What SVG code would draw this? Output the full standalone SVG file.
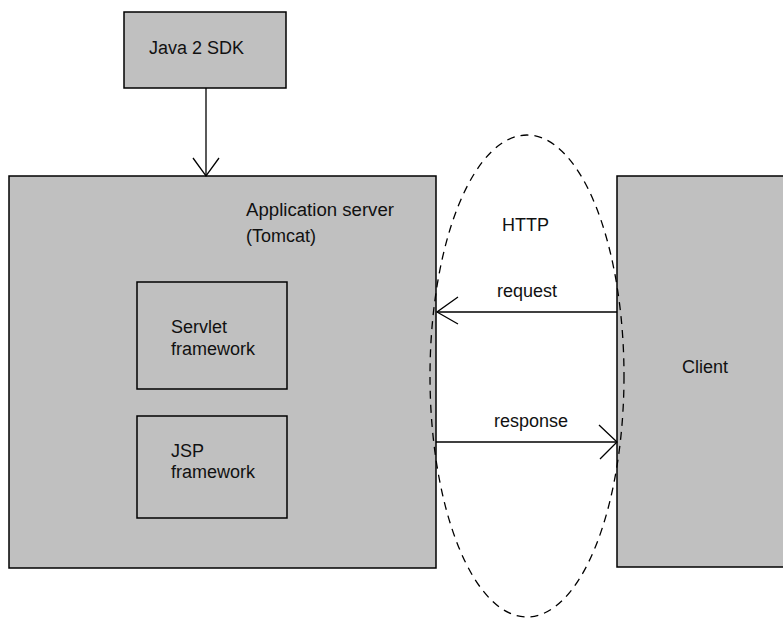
<svg xmlns="http://www.w3.org/2000/svg" width="783" height="618" viewBox="0 0 783 618">
<defs>
<style>
.box{fill:#c0c0c0;stroke:#000;stroke-width:1.5}
.t{font-family:"Liberation Sans",Arial,sans-serif;font-size:18px;fill:#111}
.ln{stroke:#000;stroke-width:1.3;fill:none}
.dash{stroke:#000;stroke-width:1.3;fill:none;stroke-dasharray:8 6}
</style>
</defs>
<rect width="783" height="618" fill="#fff"/>
<g id="java-sdk">
<rect class="box" x="124" y="12" width="162" height="76"/>
<text class="t" x="149" y="54">Java 2 SDK</text>
</g>
<g id="app-server">
<rect class="box" x="9" y="176" width="427" height="392"/>
<text class="t" x="246" y="216" textLength="148" lengthAdjust="spacingAndGlyphs">Application server</text>
<text class="t" x="246" y="242">(Tomcat)</text>
</g>
<g id="servlet">
<rect class="box" x="137" y="282" width="150" height="107"/>
<text class="t" x="171" y="333">Servlet</text>
<text class="t" x="171" y="355">framework</text>
</g>
<g id="jsp">
<rect class="box" x="137" y="416" width="150" height="102"/>
<text class="t" x="171" y="457">JSP</text>
<text class="t" x="171" y="478">framework</text>
</g>
<g id="client">
<rect class="box" x="617" y="176" width="170" height="391"/>
<text class="t" x="682" y="373">Client</text>
</g>
<g id="http">
<ellipse class="dash" cx="527" cy="376" rx="97" ry="241"/>
<text class="t" x="502" y="231">HTTP</text>
</g>
<g id="connectors">
<line class="ln" x1="206" y1="88" x2="206" y2="176"/>
<polyline class="ln" points="193,158 206,176 219,158"/>
<line class="ln" x1="617" y1="312" x2="437" y2="312"/>
<polyline class="ln" points="458,297 437,312 458,324"/>
<text class="t" x="497" y="297">request</text>
<line class="ln" x1="436" y1="442" x2="617" y2="442"/>
<polyline class="ln" points="599,425 617,442 600,459"/>
<text class="t" x="494" y="427">response</text>
</g>
</svg>
